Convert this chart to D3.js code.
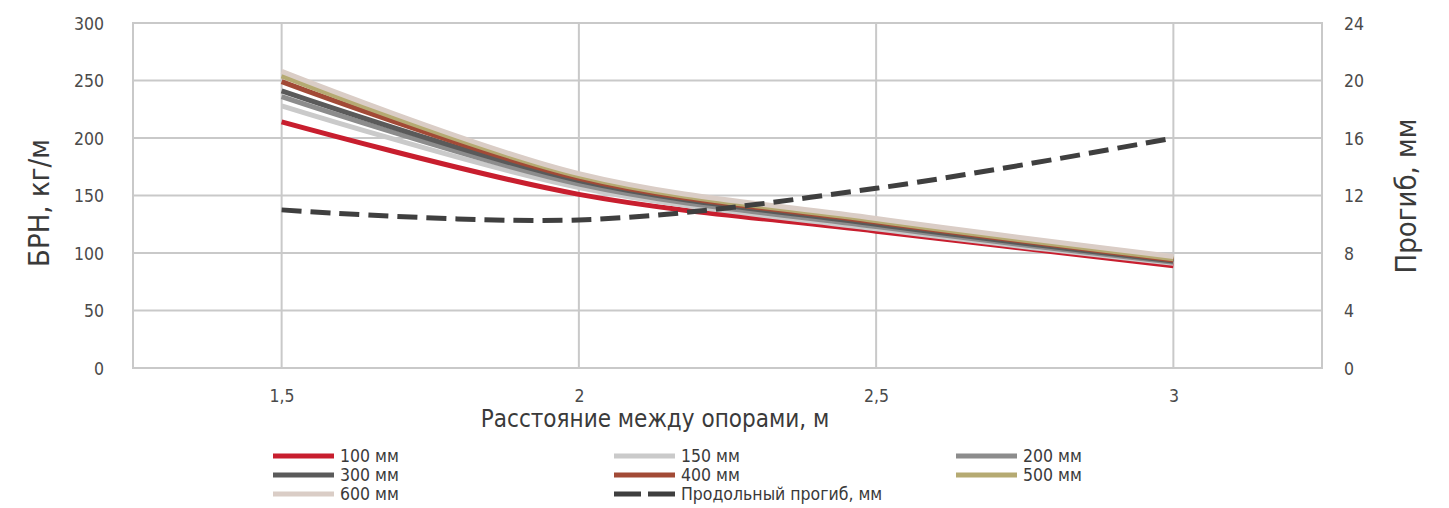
<!DOCTYPE html>
<html><head><meta charset="utf-8">
<script src="https://cdn.jsdelivr.net/npm/d3@7"></script>
<style>
html,body{margin:0;padding:0;background:#fff;}
svg{display:block;}
text{font-family:"DejaVu Sans Condensed","Liberation Sans Narrow","Roboto",sans-serif;}
</style></head>
<body><svg id="c" width="1449" height="508"></svg>
<script>
const spans = [1.5, 2, 2.5, 3];
const xTicks = [1.5, 2, 2.5, 3];
const xTickLabels = ["1,5", "2", "2,5", "3"];
const leftTicks = [0, 50, 100, 150, 200, 250, 300];
const rightTicks = [0, 4, 8, 12, 16, 20, 24];
const seriesNames = ["100 мм", "150 мм", "200 мм", "300 мм", "400 мм", "500 мм", "600 мм"];
const seriesColors = ["#c81e2e", "#cacaca", "#8c8c8c", "#5a5a5a", "#a24a36", "#b5aa72", "#dacdc6"];
const s100 = [214, 151, 119, 89];
const s150 = [228, 157, 121, 91];
const s200 = [236, 160, 123, 92];
const s300 = [241, 163, 125, 93];
const s400 = [249, 165, 127, 94];
const s500 = [254, 167, 128, 95];
const s600 = [258, 169, 130, 97];
const deflection = [11.0, 10.3, 12.5, 16.0];
const deflName = "Продольный прогиб, мм";

const svg = d3.select("#c");
const L = 133, R = 1322, T = 23, B = 368;
const x = d3.scaleLinear().domain([1.25, 3.25]).range([L, R]);
const yL = d3.scaleLinear().domain([0, 300]).range([B, T]);
const yR = d3.scaleLinear().domain([0, 24]).range([B, T]);
const grid = "#c9c9c9";
const ff = "'DejaVu Sans Condensed','Liberation Sans Narrow',sans-serif";

// gridlines
svg.append("g").selectAll("line").data(leftTicks).join("line")
  .attr("x1", L).attr("x2", R).attr("y1", d => yL(d)).attr("y2", d => yL(d))
  .attr("stroke", grid).attr("stroke-width", 2);
svg.append("g").selectAll("line").data(xTicks).join("line")
  .attr("x1", d => x(d)).attr("x2", d => x(d)).attr("y1", T).attr("y2", B)
  .attr("stroke", grid).attr("stroke-width", 2);
svg.append("rect").attr("x", L).attr("y", T).attr("width", R - L).attr("height", B - T)
  .attr("fill", "none").attr("stroke", grid).attr("stroke-width", 2);

// axes
const ax = svg.append("g").attr("transform", `translate(0,${B + 19})`)
  .call(d3.axisBottom(x).tickValues(xTicks).tickFormat((d, i) => xTickLabels[i]).tickSize(0));
const aL = svg.append("g").attr("transform", `translate(${L - 26},0)`)
  .call(d3.axisLeft(yL).tickValues(leftTicks).tickSize(0));
const aR = svg.append("g").attr("transform", `translate(${R + 19},0)`)
  .call(d3.axisRight(yR).tickValues(rightTicks).tickSize(0));
[ax, aL, aR].forEach(a => {
  a.select(".domain").remove();
  a.selectAll("text").attr("font-size", 17.5).attr("fill", "#4a4a4a").attr("font-family", ff);
});
aL.selectAll("text").attr("dy", "0.35em");
aR.selectAll("text").attr("dy", "0.35em");

// titles
svg.append("text").attr("x", 655).attr("y", 427).attr("text-anchor", "middle")
  .attr("font-size", 24).attr("fill", "#3a3a3a").text("Расстояние между опорами, м");
svg.append("text").attr("transform", "translate(49,203) rotate(-90)").attr("text-anchor", "middle")
  .attr("font-size", 29).attr("fill", "#3a3a3a").text("БРН, кг/м");
svg.append("text").attr("transform", "translate(1416,196) rotate(-90)").attr("text-anchor", "middle")
  .attr("font-size", 29).attr("fill", "#3a3a3a").text("Прогиб, мм");

// series
const allSeries = [s100, s150, s200, s300, s400, s500, s600];
const line = d3.line().x((d, i) => x(spans[i])).y(d => yL(d)).curve(d3.curveCatmullRom.alpha(0.5));
const lineR = d3.line().x((d, i) => x(spans[i])).y(d => yR(d)).curve(d3.curveCatmullRom.alpha(0.5));
svg.append("g").selectAll("path").data(allSeries).join("path")
  .attr("d", d => line(d)).attr("fill", "none")
  .attr("stroke", (d, i) => seriesColors[i])
  .attr("stroke-width", 5)
  .attr("stroke-linejoin", "round");
svg.append("path").attr("d", lineR(deflection)).attr("fill", "none")
  .attr("stroke", "#3f3f3f").attr("stroke-width", 5).attr("stroke-dasharray", "20,9");

// legend
const legendItems = seriesNames.map((n, i) => ({name: n, color: seriesColors[i], dash: false}))
  .concat([{name: deflName, color: "#3f3f3f", dash: true}]);
const colX = [273, 614, 956];
const rowY = [456, 475, 494];
const lg = svg.append("g").selectAll("g").data(legendItems).join("g")
  .attr("transform", (d, i) => `translate(${colX[i % 3]},${rowY[Math.floor(i / 3)]})`);
lg.append("line").attr("x1", 0).attr("x2", 61).attr("y1", 0).attr("y2", 0)
  .attr("stroke", d => d.color).attr("stroke-width", 5)
  .attr("stroke-dasharray", d => d.dash ? "27,7" : null);
lg.append("text").attr("x", 67).attr("y", 0).attr("dy", "0.36em")
  .attr("font-size", 17.5).attr("fill", "#3a3a3a").text(d => d.name);
</script></body></html>
